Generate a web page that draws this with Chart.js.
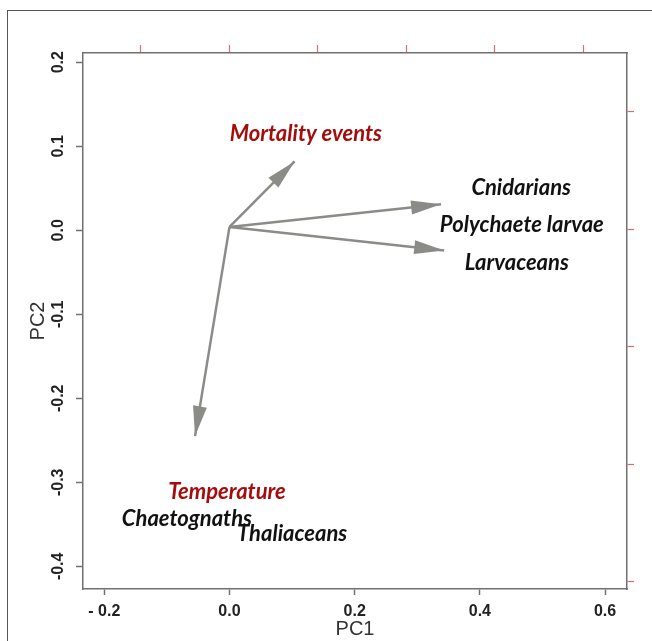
<!DOCTYPE html>
<html lang="en">
<head>
    <meta charset="UTF-8">
    <title>PCA biplot</title>
    <script src="https://cdn.jsdelivr.net/npm/chart.js"></script>
    <style>
        body {
            margin: 0;
            padding: 0;
            background-color: #ffffff;
            overflow: hidden;
            width: 652px;
            height: 641px;
            position: relative;
        }
        #frame {
            position: absolute;
            left: 7px;
            top: 10px;
            width: 700px;
            height: 700px;
            border: 1px solid #555;
        }
        #biplot {
            position: absolute;
            left: 0;
            top: 0;
        }
    </style>
</head>
<body>
    <div id="frame"></div>
    <canvas id="biplot" width="652" height="641"></canvas>

    <script>
        // axis ticks (PC scores on bottom/left, loadings on top/right)
        const pc1Ticks = [-0.2, 0.0, 0.2, 0.4, 0.6];
        const pc1TickLabels = ['- 0.2', '0.0', '0.2', '0.4', '0.6'];
        const pc2Ticks = [0.2, 0.1, 0.0, -0.1, -0.2, -0.3, -0.4];
        const pc2TickLabels = ['0.2', '0.1', '0.0', '-0.1', '-0.2', '-0.3', '-0.4'];
        const topTicks = [-1, 0, 1, 2, 3, 4];
        const rightTicks = [1, 0, -1, -2, -3];

        // variable arrows (tips, in PC units)
        const arrowTipX = [0.104, 0.338, 0.343, -0.055];
        const arrowTipY = [0.082, 0.031, -0.024, -0.245];
        const originX = 0.0;
        const originY = 0.004;

        // text labels (centre, in PC units)
        const labelNames = ['Mortality events', 'Cnidarians', 'Polychaete larvae', 'Larvaceans',
                            'Temperature', 'Chaetognaths', 'Thaliaceans'];
        const labelX = [0.122, 0.466, 0.467, 0.459, -0.004, -0.068, 0.100];
        const labelY = [0.115, 0.051, 0.006, -0.039, -0.312, -0.343, -0.362];
        const labelIsEnv = [true, false, false, false, true, false, false];

        const ARROW_COL = '#8b8c88';
        const AXIS_COL = '#707070';
        const RED_TICK = '#e06a6a';

        const arrowSets = arrowTipX.map((x, i) => ({
            label: 'arrow' + i,
            data: [{ x: originX, y: originY }, { x: x, y: arrowTipY[i] }],
            showLine: true,
            borderColor: ARROW_COL,
            borderWidth: 2.5,
            pointRadius: 0,
            xAxisID: 'x',
            yAxisID: 'y'
        }));

        // arrowheads at the end of every arrow line
        const arrowHeads = {
            id: 'arrowHeads',
            afterDatasetsDraw(chart) {
                const ctx = chart.ctx;
                chart.data.datasets.forEach((ds, i) => {
                    const pts = chart.getDatasetMeta(i).data;
                    if (pts.length < 2) return;
                    const a = pts[0], b = pts[1];
                    const ang = Math.atan2(b.y - a.y, b.x - a.x);
                    const len = 30, half = 7;
                    ctx.save();
                    ctx.translate(b.x, b.y);
                    ctx.rotate(ang);
                    ctx.beginPath();
                    ctx.moveTo(0, 0);
                    ctx.lineTo(-len, -half);
                    ctx.lineTo(-len, half);
                    ctx.closePath();
                    ctx.fillStyle = ARROW_COL;
                    ctx.fill();
                    ctx.restore();
                });
            }
        };

        // variable names, plus rotated PC2 tick labels
        const textLayer = {
            id: 'textLayer',
            afterDraw(chart) {
                const ctx = chart.ctx;
                const xs = chart.scales.x, ys = chart.scales.y;
                ctx.save();
                ctx.textAlign = 'center';
                ctx.textBaseline = 'middle';
                ctx.font = 'italic bold 22px Lato, "Open Sans", sans-serif';
                labelNames.forEach((name, i) => {
                    ctx.fillStyle = labelIsEnv[i] ? '#a50d0d' : '#111111';
                    ctx.fillText(name, xs.getPixelForValue(labelX[i]), ys.getPixelForValue(labelY[i]));
                });

                ctx.font = 'bold 16px "Liberation Sans", Arial, sans-serif';
                ctx.fillStyle = '#222222';
                ys.ticks.forEach((t, i) => {
                    ctx.save();
                    ctx.translate(59, ys.getPixelForValue(t.value));
                    ctx.rotate(-Math.PI / 2);
                    ctx.fillText(pc2TickLabels[i], 0, 0);
                    ctx.restore();
                });
                ctx.restore();
            }
        };

        new Chart(document.getElementById('biplot'), {
            type: 'scatter',
            data: { datasets: arrowSets },
            options: {
                responsive: false,
                animation: false,
                layout: { padding: 0 },
                plugins: {
                    legend: { display: false },
                    tooltip: { enabled: false }
                },
                scales: {
                    x: {
                        type: 'linear',
                        position: 'bottom',
                        min: -0.234,
                        max: 0.635,
                        afterBuildTicks: s => { s.ticks = pc1Ticks.map(v => ({ value: v })); },
                        afterFit: s => { s.height = 52; },
                        ticks: {
                            callback: (v, i) => pc1TickLabels[i],
                            color: '#222222',
                            font: { family: '"Liberation Sans", Arial, sans-serif', size: 16, weight: 'bold' },
                            padding: 7,
                            maxRotation: 0
                        },
                        grid: { drawOnChartArea: false, drawTicks: true, tickLength: 6, color: AXIS_COL, tickWidth: 1.5 },
                        border: { display: true, color: AXIS_COL, width: 1.5 },
                        title: {
                            display: true,
                            text: 'PC1',
                            color: '#333333',
                            font: { family: '"Liberation Sans", Arial, sans-serif', size: 20 },
                            padding: { top: 0, bottom: 0 }
                        }
                    },
                    y: {
                        type: 'linear',
                        position: 'left',
                        min: -0.427,
                        max: 0.211,
                        afterBuildTicks: s => { s.ticks = pc2Ticks.map(v => ({ value: v })); },
                        afterFit: s => { s.width = 83; },
                        ticks: { display: false },
                        grid: { drawOnChartArea: false, drawTicks: true, tickLength: 7, color: AXIS_COL, tickWidth: 1.5 },
                        border: { display: true, color: AXIS_COL, width: 1.5 },
                        title: {
                            display: true,
                            text: 'PC2',
                            color: '#333333',
                            font: { family: '"Liberation Sans", Arial, sans-serif', size: 20 },
                            padding: { top: 26, bottom: 0 }
                        }
                    },
                    x2: {
                        type: 'linear',
                        position: 'top',
                        min: -1.65,
                        max: 4.49,
                        afterBuildTicks: s => { s.ticks = topTicks.map(v => ({ value: v })); },
                        afterFit: s => { s.height = 53; },
                        ticks: { display: false },
                        grid: { drawOnChartArea: false, drawTicks: true, tickLength: 8, color: RED_TICK, tickWidth: 1.2 },
                        border: { display: true, color: AXIS_COL, width: 1.5 }
                    },
                    y2: {
                        type: 'linear',
                        position: 'right',
                        min: -3.06,
                        max: 1.50,
                        afterBuildTicks: s => { s.ticks = rightTicks.map(v => ({ value: v })); },
                        afterFit: s => { s.width = 25; },
                        ticks: { display: false },
                        grid: { drawOnChartArea: false, drawTicks: true, tickLength: 7, color: RED_TICK, tickWidth: 1.2 },
                        border: { display: true, color: AXIS_COL, width: 1.5 }
                    }
                }
            },
            plugins: [arrowHeads, textLayer]
        });
    </script>
</body>
</html>
